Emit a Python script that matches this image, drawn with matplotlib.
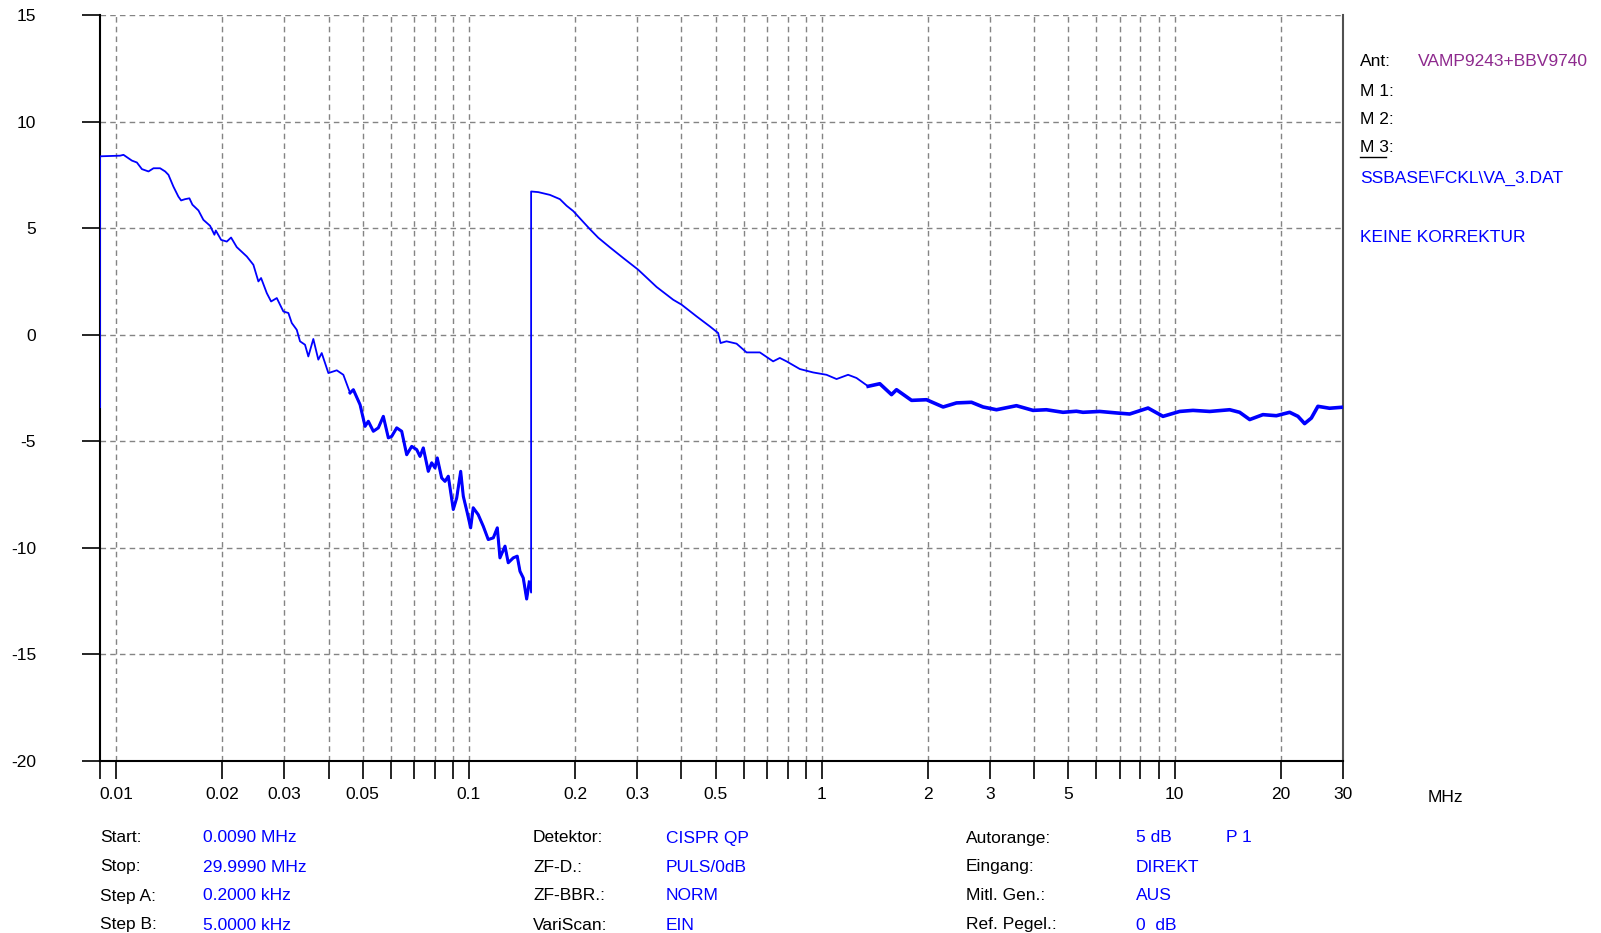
import matplotlib
matplotlib.use("Agg")
import matplotlib.pyplot as plt
from matplotlib.lines import Line2D

plt.rcParams['font.family'] = ['Liberation Sans', 'DejaVu Sans']
plt.rcParams['axes.unicode_minus'] = False

# measured trace, frequency in MHz, level in dB
freq_mhz = [
    0.009, 0.009, 0.01026, 0.01049, 0.01108, 0.01145, 0.01183, 0.01235, 0.01276, 0.01332,
    0.01377, 0.01407, 0.01453, 0.01501, 0.01528, 0.01568, 0.01613, 0.01645, 0.01711, 0.01767,
    0.01846, 0.01899, 0.01916, 0.01984, 0.02059, 0.02117, 0.02197, 0.02346, 0.02449, 0.0253,
    0.02575, 0.02673, 0.02749, 0.02853, 0.02978, 0.03077, 0.03146, 0.0325, 0.0332, 0.0343,
    0.03505, 0.03621, 0.03741, 0.03825, 0.03995, 0.0422, 0.04405, 0.04602, 0.04702, 0.04912,
    0.05075, 0.05185, 0.05357, 0.05535, 0.05718, 0.05908, 0.06039, 0.0624, 0.06446, 0.0666,
    0.06881, 0.07109, 0.07264, 0.07422, 0.07668, 0.0784, 0.0801, 0.08131, 0.08368, 0.08551,
    0.08737, 0.09026, 0.0923, 0.09473, 0.09636, 0.0989, 0.1011, 0.1028, 0.1062, 0.1098,
    0.1134, 0.1172, 0.1203, 0.1224, 0.1265, 0.1292, 0.1335, 0.137, 0.1395, 0.1425,
    0.1457, 0.1482, 0.15, 0.15, 0.1572, 0.1696, 0.181, 0.1891, 0.1975, 0.2202,
    0.2325, 0.2508, 0.2736, 0.3017, 0.3402, 0.3792, 0.4005, 0.4416, 0.4816, 0.5084,
    0.5164, 0.537, 0.5733, 0.6119, 0.6675, 0.7278, 0.7603, 0.7943, 0.8664, 0.9449,
    1.031, 1.101, 1.187, 1.254, 1.353, 1.46, 1.576, 1.628, 1.796, 1.98,
    2.207, 2.408, 2.656, 2.864, 3.126, 3.561, 3.968, 4.33, 4.826, 5.266,
    5.498, 6.131, 6.835, 7.456, 8.405, 9.267, 10.33, 11.27, 12.57, 14.32,
    15.28, 16.32, 17.79, 19.42, 21.18, 22.36, 23.35, 24.4, 25.47, 27.48,
    30.0,
]
level_db = [
    -3.4, 8.37, 8.4, 8.44, 8.17, 8.08, 7.77, 7.66, 7.81, 7.81,
    7.66, 7.5, 6.95, 6.48, 6.3, 6.36, 6.4, 6.1, 5.83, 5.39,
    5.11, 4.69, 4.89, 4.45, 4.37, 4.56, 4.11, 3.67, 3.28, 2.5,
    2.66, 1.95, 1.56, 1.72, 1.09, 1.02, 0.55, 0.23, -0.31, -0.47,
    -1.02, -0.2, -1.17, -0.86, -1.8, -1.67, -1.88, -2.73, -2.58, -3.28,
    -4.3, -4.06, -4.53, -4.37, -3.83, -4.84, -4.77, -4.37, -4.53, -5.63,
    -5.24, -5.39, -5.71, -5.31, -6.41, -6.01, -6.25, -5.78, -6.72, -6.88,
    -6.64, -8.2, -7.66, -6.41, -7.58, -8.36, -9.06, -8.12, -8.44, -8.99,
    -9.61, -9.53, -9.06, -10.47, -9.92, -10.7, -10.47, -10.39, -11.1, -11.41,
    -12.4, -11.6, -12.1, 6.72, 6.69, 6.56, 6.36, 6.05, 5.8, 4.95,
    4.55, 4.1, 3.6, 3.05, 2.24, 1.64, 1.41, 0.86, 0.39, 0.08,
    -0.39, -0.31, -0.42, -0.83, -0.83, -1.25, -1.09, -1.25, -1.61, -1.77,
    -1.88, -2.08, -1.88, -2.03, -2.42, -2.3, -2.81, -2.58, -3.08, -3.05,
    -3.39, -3.2, -3.17, -3.39, -3.52, -3.33, -3.55, -3.52, -3.64, -3.59,
    -3.64, -3.6, -3.67, -3.72, -3.44, -3.83, -3.6, -3.55, -3.6, -3.52,
    -3.64, -3.98, -3.75, -3.8, -3.64, -3.83, -4.17, -3.91, -3.36, -3.45,
    -3.4,
]

x_tick_labels = {0.01: '0.01', 0.02: '0.02', 0.03: '0.03', 0.05: '0.05', 0.1: '0.1',
                 0.2: '0.2', 0.3: '0.3', 0.5: '0.5', 1: '1', 2: '2', 3: '3', 5: '5',
                 10: '10', 20: '20', 30: '30'}
y_ticks = [-20, -15, -10, -5, 0, 5, 10, 15]

info_left = [('Start:', '0.0090 MHz'), ('Stop:', '29.9990 MHz'),
             ('Step A:', '0.2000 kHz'), ('Step B:', '5.0000 kHz')]
info_mid = [('Detektor:', 'CISPR QP'), ('ZF-D.:', 'PULS/0dB'),
            ('ZF-BBR.:', 'NORM'), ('VariScan:', 'EIN')]
info_right = [('Autorange:', '5 dB'), ('Eingang:', 'DIREKT'),
              ('Mitl. Gen.:', 'AUS'), ('Ref. Pegel.:', '0  dB')]

W, H = 1601, 933
fig = plt.figure(figsize=(W / 100, H / 100), dpi=100)
ax = fig.add_axes([100 / W, 1 - 761 / H, 1243 / W, 746 / H])

ax.set_xscale('log')
ax.set_xlim(0.009, 30)
ax.set_ylim(-20, 15)

grid_x = [m * d for d in (0.01, 0.1, 1, 10) for m in range(1, 10) if m * d <= 30]
for gx in grid_x:
    ax.axvline(gx, color='#848484', lw=1.0, ls=(0, (4, 3)), zorder=1)
for gy in y_ticks[1:]:
    ax.axhline(gy, color='#848484', lw=1.0, ls=(0, (4, 3)), zorder=1)

ax.plot(freq_mhz, level_db, color='#0000ff', lw=1.3, zorder=3)
# the dense scan looks thicker where it is noisy
noisy = [i for i, f in enumerate(freq_mhz) if 0.045 < f < 0.1499 or f > 1.3]
ax.plot([freq_mhz[i] for i in noisy if freq_mhz[i] < 0.15],
        [level_db[i] for i in noisy if freq_mhz[i] < 0.15], color='#0000ff', lw=2.2, zorder=3)
ax.plot([freq_mhz[i] for i in noisy if freq_mhz[i] > 1],
        [level_db[i] for i in noisy if freq_mhz[i] > 1], color='#0000ff', lw=2.6, zorder=3)

ax.minorticks_off()
ax.set_xticks([0.009] + grid_x)
ax.set_xticklabels([''] + [x_tick_labels.get(round(g, 4), '') for g in grid_x])
ax.set_yticks(y_ticks)
ax.set_yticklabels([str(v) for v in y_ticks])
ax.tick_params(axis='x', direction='out', length=13, width=1.2, pad=6, labelsize=12.5)
ax.tick_params(axis='y', direction='out', length=13, width=1.2, pad=33, labelsize=12.5)

ax.spines['top'].set_visible(False)
ax.spines['left'].set_linewidth(1.5)
ax.spines['bottom'].set_linewidth(1.5)
ax.spines['right'].set_color('#505050')
ax.spines['right'].set_linewidth(1.5)

fig.text(1428 / W, 1 - 797 / H, 'MHz', fontsize=12.5, ha='left', va='center')

rows_y = [838, 867, 896, 925]
for (lab, val), yy in zip(info_left, rows_y):
    fig.text(100 / W, 1 - yy / H, lab, fontsize=12.5, va='center')
    fig.text(203 / W, 1 - yy / H, val, fontsize=12.5, va='center', color='#0000ff')
for (lab, val), yy in zip(info_mid, rows_y):
    fig.text(533 / W, 1 - yy / H, lab, fontsize=12.5, va='center')
    fig.text(666 / W, 1 - yy / H, val, fontsize=12.5, va='center', color='#0000ff')
for (lab, val), yy in zip(info_right, rows_y):
    fig.text(966 / W, 1 - yy / H, lab, fontsize=12.5, va='center')
    fig.text(1136 / W, 1 - yy / H, val, fontsize=12.5, va='center', color='#0000ff')
fig.text(1226 / W, 1 - rows_y[0] / H, 'P 1', fontsize=12.5, va='center', color='#0000ff')

fig.text(1360 / W, 1 - 62 / H, 'Ant:', fontsize=12.5, va='center')
fig.text(1418 / W, 1 - 62 / H, 'VAMP9243+BBV9740', fontsize=12.5, va='center', color='#8e2a8e')
fig.text(1360 / W, 1 - 92 / H, 'M 1:', fontsize=12.5, va='center')
fig.text(1360 / W, 1 - 120 / H, 'M 2:', fontsize=12.5, va='center')
fig.text(1360 / W, 1 - 148 / H, 'M 3:', fontsize=12.5, va='center')
fig.add_artist(Line2D([1360 / W, 1386 / W], [1 - 157 / H, 1 - 157 / H], color='black', lw=1.0))
fig.text(1360 / W, 1 - 178 / H, 'SSBASE\\FCKL\\VA_3.DAT', fontsize=12.5, va='center', color='#0000ff')
fig.text(1360 / W, 1 - 237 / H, 'KEINE KORREKTUR', fontsize=12.5, va='center', color='#0000ff')

fig.savefig('out.png', dpi=100)
